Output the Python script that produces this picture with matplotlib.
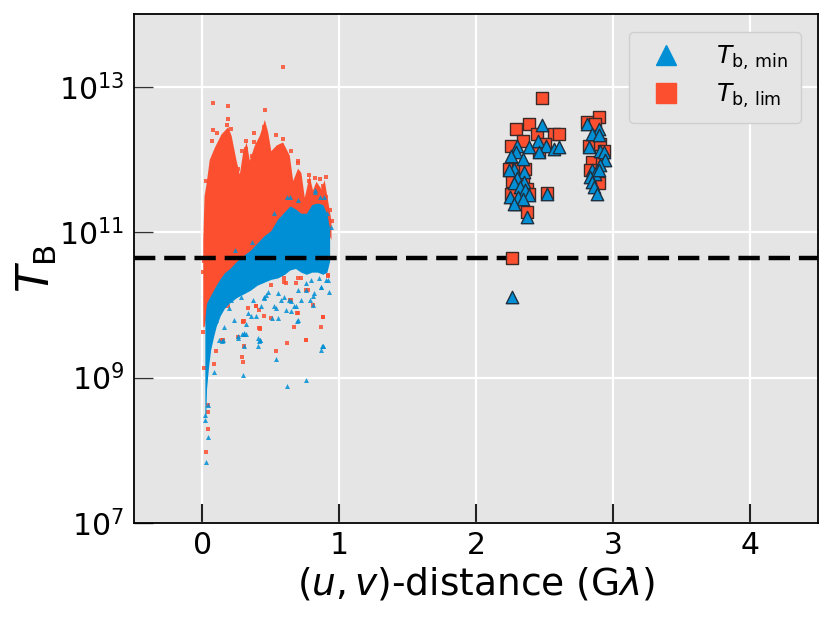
import matplotlib
matplotlib.use("Agg")
import matplotlib.pyplot as plt
from matplotlib.lines import Line2D
import numpy as np

BLUE = "#008fd5"
RED = "#fc4f30"

# ---- dense cloud envelopes (x in Glambda, log10 T) ----
red_core_x = [0.003, 0.012, 0.027, 0.05, 0.088, 0.136, 0.185, 0.21, 0.246, 0.27, 0.294,
              0.32, 0.343, 0.38, 0.416, 0.453, 0.477, 0.5, 0.54, 0.586, 0.635, 0.66,
              0.696, 0.72, 0.745, 0.78, 0.805, 0.83, 0.866, 0.89, 0.915, 0.94]
red_core_hi = [10.9, 11.5, 11.67, 12.0, 12.17, 12.35, 12.45, 12.33, 11.99, 11.8, 12.1,
               12.24, 11.99, 12.2, 12.33, 12.55, 12.38, 12.12, 12.2, 12.24, 12.06, 11.71,
               11.88, 11.82, 11.48, 11.78, 11.58, 11.7, 11.6, 11.72, 11.44, 11.16]
red_core_lo = [9.7, 9.7, 9.85, 10.0, 10.15, 10.3, 10.4, 10.45, 10.5, 10.55, 10.6,
               10.62, 10.65, 10.7, 10.75, 10.85, 10.9, 10.95, 11.05, 11.1, 11.2, 11.2,
               11.2, 11.15, 11.1, 11.2, 11.2, 11.2, 11.2, 11.2, 11.0, 10.9]

blue_core_x = [0.018, 0.025, 0.03, 0.045, 0.06, 0.08, 0.1, 0.13, 0.16, 0.2, 0.25, 0.3, 0.35,
               0.4, 0.45, 0.5, 0.55, 0.6, 0.64, 0.68, 0.72, 0.76, 0.8, 0.84, 0.88, 0.91, 0.93]
blue_core_hi = [9.8, 9.95, 10.02, 10.08, 10.13, 10.2, 10.27, 10.36, 10.44, 10.5, 10.6, 10.68,
                10.75, 10.85, 10.95, 11.02, 11.18, 11.28, 11.36, 11.32, 11.26, 11.26, 11.38,
                11.4, 11.38, 11.25, 11.05]
blue_core_lo = [8.45, 8.5, 8.84, 9.15, 9.38, 9.55, 9.7, 9.85, 9.95, 10.03, 10.1, 10.15, 10.2,
                10.27, 10.31, 10.35, 10.37, 10.42, 10.48, 10.5, 10.45, 10.42, 10.45, 10.45,
                10.42, 10.45, 10.6]

# ---- scattered fringe points of the short-baseline data ----
red_pts_x = [0.002, 0.148, 0.258, 0.307, 0.62, 0.757, 0.54, 0.30, 0.088, 0.015, 0.04, 0.027,
             0.10, 0.04, 0.04, 0.29, 0.883, 0.866, 0.754, 0.42, 0.294, 0.694, 0.64, 0.76,
             0.92, 0.14, 0.696, 0.88, 0.416, 0.39, 0.307, 0.185, 0.60, 0.77, 0.805, 0.915,
             0.59, 0.075, 0.185, 0.46, 0.178, 0.075, 0.11, 0.068, 0.38, 0.38, 0.54, 0.59,
             0.647, 0.70, 0.78, 0.82, 0.86, 0.90, 0.027, 0.32, 0.29, 0.258, 0.307, 0.38,
             0.90, 0.88, 0.95, 0.92, 0.33, 0.453, 0.61, 0.67, 0.50, 0.005, 0.01,
             0.453, 0.46, 0.32, 0.185, 0.21, 0.36, 0.54, 0.70, 0.78, 0.84, 0.935,
             0.39, 0.416, 0.50, 0.647, 0.696, 0.72, 0.878, 0.42, 0.294, 0.60, 0.684]
red_pts_y = [9.62, 9.52, 9.56, 9.43, 9.48, 9.51, 9.36, 9.21, 9.19, 9.13, 8.29, 7.98,
             9.36, 8.62, 8.53, 9.28, 9.83, 9.69, 9.51, 9.67, 9.78, 9.89, 10.06, 10.21,
             10.40, 9.52, 10.37, 9.83, 9.68, 9.98, 9.78, 9.99, 10.32, 10.21, 10.0, 10.41,
             13.27, 12.78, 12.73, 12.68, 12.48, 12.40, 12.37, 12.25, 12.37, 12.24, 12.33, 12.28,
             12.12, 11.95, 11.78, 11.74, 11.73, 11.76, 11.70, 12.26, 12.12, 11.87, 11.61, 11.49,
             11.48, 11.64, 11.16, 11.10, 9.96, 9.84, 10.30, 9.70, 10.27, 10.45, 10.6,
             12.45, 12.35, 12.15, 12.55, 12.42, 12.05, 12.12, 11.98, 11.70, 11.62, 11.3,
             9.98, 9.93, 9.82, 10.07, 9.89, 10.37, 9.83, 9.68, 9.77, 10.37, 10.30]

blue_pts_x = [0.307, 0.42, 0.41, 0.874, 0.866, 0.54, 0.30, 0.088, 0.62, 0.757, 0.04, 0.027,
              0.04, 0.14, 0.69, 0.42, 0.287, 0.32, 0.81, 0.92, 0.153, 0.258, 0.404, 0.506,
              0.574, 0.647, 0.696, 0.79, 0.866, 0.124, 0.453, 0.355, 0.82, 0.64, 0.86, 0.91,
              0.94, 0.52, 0.36, 0.24, 0.88,
              0.21, 0.28, 0.367, 0.43, 0.465, 0.526, 0.55, 0.61, 0.635, 0.67, 0.72, 0.757,
              0.818, 0.854, 0.9, 0.927, 0.16, 0.234, 0.33, 0.10, 0.62, 0.70, 0.82, 0.89,
              0.02, 0.022,
              0.453, 0.538, 0.55, 0.647, 0.684, 0.60, 0.757, 0.793, 0.866, 0.805, 0.696,
              0.32, 0.39, 0.307, 0.258, 0.416, 0.307, 0.878, 0.197, 0.477]
blue_pts_y = [9.60, 9.51, 9.43, 9.43, 9.38, 9.25, 9.03, 9.07, 8.88, 8.96, 8.18, 7.84,
              8.62, 9.50, 9.78, 9.51, 9.60, 9.60, 10.12, 10.34, 9.52, 9.54, 9.54, 9.82,
              10.07, 9.91, 10.21, 10.07, 10.25, 9.52, 10.11, 9.84, 11.55, 11.48, 11.48, 11.26,
              11.07, 11.26, 10.87, 10.75, 9.43,
              10.07, 10.11, 10.07, 9.98, 10.14, 9.98, 10.16, 9.93, 10.07, 9.98, 10.07, 10.30,
              10.16, 10.37, 10.34, 10.18, 9.70, 9.79, 9.89, 9.79, 11.48, 11.44, 11.58, 11.48,
              8.42, 8.48,
              10.09, 9.95, 9.82, 10.05, 9.98, 10.11, 10.21, 10.34, 10.25, 10.0, 9.79,
              9.73, 9.84, 9.61, 9.57, 9.50, 9.43, 9.43, 9.95, 10.18]

# ---- long-baseline measurements ----
lim_x = [2.485, 2.29, 2.387, 2.34, 2.253, 2.447, 2.57, 2.606, 2.508, 2.46, 2.24, 2.31,
         2.36, 2.265, 2.34, 2.37, 2.253, 2.387, 2.52, 2.29, 2.375, 2.265,
         2.90, 2.81, 2.87, 2.825, 2.91, 2.935, 2.85, 2.92, 2.835, 2.90]
lim_y = [12.85, 12.42, 12.49, 12.26, 12.19, 12.35, 12.35, 12.35, 12.21, 12.12, 11.87, 11.87,
         11.87, 11.71, 11.71, 11.60, 11.53, 11.53, 11.54, 11.39, 11.28, 10.64,
         12.58, 12.51, 12.49, 12.19, 12.21, 12.12, 11.96, 11.99, 11.85, 11.67]

min_x = [2.485, 2.45, 2.51, 2.387, 2.30, 2.46, 2.57, 2.606, 2.29, 2.253, 2.34, 2.28,
         2.35, 2.24, 2.30, 2.35, 2.28, 2.325, 2.36, 2.387, 2.25, 2.31, 2.34, 2.28,
         2.52, 2.375, 2.265,
         2.81, 2.90, 2.85, 2.90, 2.825, 2.91, 2.935, 2.946, 2.91, 2.85, 2.87, 2.835,
         2.90, 2.85, 2.86, 2.885]
min_y = [12.47, 12.26, 12.19, 12.17, 12.19, 12.10, 12.15, 12.17, 12.10, 12.05, 12.01, 11.87,
         11.83, 11.85, 11.74, 11.69, 11.67, 11.62, 11.58, 11.51, 11.48, 11.48, 11.46, 11.39,
         11.53, 11.21, 10.11,
         12.49, 12.42, 12.35, 12.33, 12.17, 12.12, 12.10, 11.99, 11.92, 11.85, 11.80, 11.76,
         11.85, 11.69, 11.62, 11.53]

threshold_log = 10.64

xticks = [0, 1, 2, 3, 4]
yticks_log = [7, 9, 11, 13]

legend_labels = [r"$T_\mathrm{b,\,min}$", r"$T_\mathrm{b,\,lim}$"]

# ---------------------------------------------------------------
def p(v):
    return np.power(10.0, np.asarray(v, dtype=float))

fig = plt.figure(figsize=(8.31, 6.18), dpi=100)
ax = fig.add_axes([134/831, 1 - 523/618, (818 - 134)/831, (523 - 14)/618])
ax.set_facecolor("#e5e5e5")
ax.set_yscale("log")
ax.set_xlim(-0.5, 4.5)
ax.set_ylim(1e7, 1e14)

ax.grid(True, color="white", linewidth=1.6, zorder=0)
ax.set_axisbelow(True)

# dense cloud
ax.fill_between(red_core_x, p(red_core_lo), p(red_core_hi), color=RED, lw=0, zorder=2)
ax.scatter(red_pts_x, p(red_pts_y), marker="s", s=11, color=RED, alpha=0.85, lw=0, zorder=2)
ax.fill_between(blue_core_x, p(blue_core_lo), p(blue_core_hi), color=BLUE, lw=0, zorder=2.1)
ax.scatter(blue_pts_x, p(blue_pts_y), marker="^", s=13, color=BLUE, alpha=0.85, lw=0, zorder=2.2)

# threshold line
ax.axhline(p(threshold_log), color="black", lw=3.2, ls=(0, (4.8, 2.0)), zorder=3)

# long-baseline points
ax.scatter(lim_x, p(lim_y), marker="s", s=75, color=RED, edgecolor="#3a2a28", lw=1.0, zorder=4)
ax.scatter(min_x, p(min_y), marker="^", s=80, color=BLUE, edgecolor="#1e3040", lw=1.0, zorder=5)

ax.set_xticks(xticks)
ax.set_xticklabels([str(t) for t in xticks])
ax.set_yticks(p(yticks_log))
ax.set_yticklabels([r"$10^{%d}$" % t for t in yticks_log])
ax.yaxis.set_minor_locator(matplotlib.ticker.NullLocator())

ax.tick_params(axis="x", direction="in", length=13.5, width=1.5, color="#222222",
               labelsize=21.5, pad=6)
ax.tick_params(axis="y", direction="in", length=13.5, width=1.0, color="#333333",
               labelsize=21.5, pad=7)
for s in ax.spines.values():
    s.set_color("black")
    s.set_linewidth(1.3)

ax.set_xlabel(r"$(u,v)$-distance (G$\lambda$)", fontsize=27, labelpad=4)
ax.set_ylabel(r"$T_\mathrm{B}$", fontsize=32, labelpad=0)

handles = [Line2D([], [], marker="^", color=BLUE, ls="none", markersize=15),
           Line2D([], [], marker="s", color=RED, ls="none", markersize=14)]
leg = ax.legend(handles, legend_labels, loc="upper right", fontsize=18,
                frameon=True, borderaxespad=0.7, handletextpad=1.0, borderpad=0.5,
                labelspacing=0.4)
leg.get_frame().set_facecolor("#e5e5e5")
leg.get_frame().set_edgecolor("#cfcfcf")
leg.get_frame().set_alpha(1)

fig.savefig("out.png", dpi=100)
